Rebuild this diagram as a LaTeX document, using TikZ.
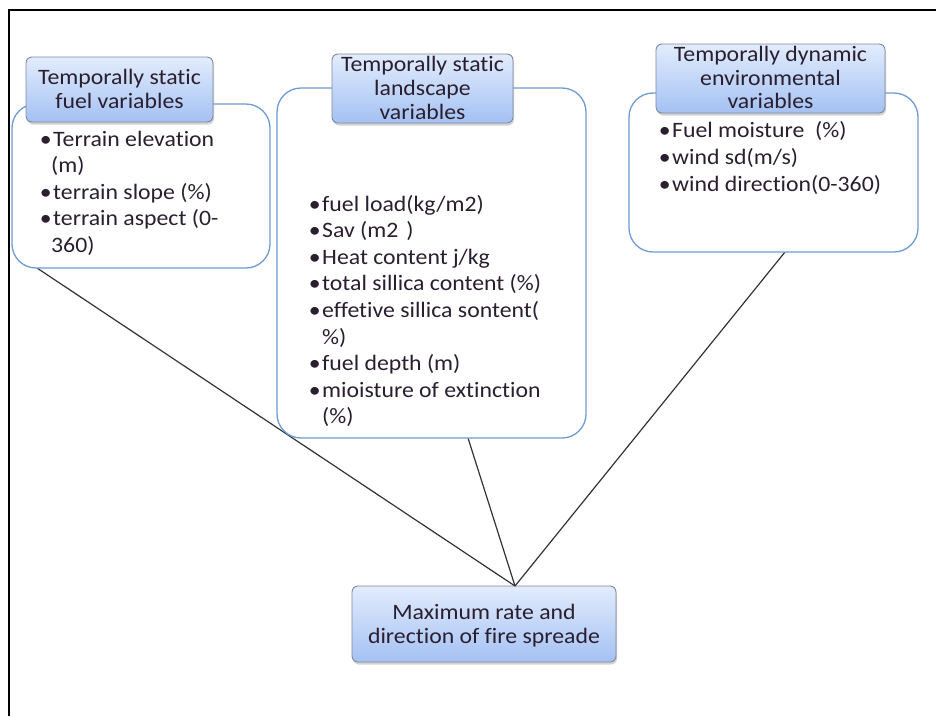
\documentclass[tikz,border=0pt]{standalone}
\usepackage{fontspec}
\setmainfont{Carlito}[Ligatures={NoCommon}, FakeStretch=1.08]
\usetikzlibrary{shadows,calc}
\definecolor{txt}{HTML}{2A1F2F}
\definecolor{hdrtop}{HTML}{E2ECFD}
\definecolor{hdrbot}{HTML}{A4C1F3}
\definecolor{hdrline}{HTML}{7F8AA0}
\definecolor{bodyline}{HTML}{6F9BD3}
\definecolor{conn}{HTML}{333333}
\tikzset{
  bodybox/.style={draw=bodyline, line width=1.3pt, rounded corners=24pt, fill=white, inner sep=0pt, outer sep=0pt},
  hdrbox/.style={draw=hdrline, line width=0.9pt, rounded corners=6pt, top color=hdrtop, bottom color=hdrbot, inner sep=0pt, outer sep=0pt,
    drop shadow={opacity=0.35, shadow xshift=1pt, shadow yshift=-2.5pt}},
  listline/.style={anchor=base west, inner sep=0pt, text=txt, font=\fontsize{22}{26.6}\selectfont},
  hdrline/.style={anchor=base, inner sep=0pt, text=txt, font=\fontsize{22}{24}\selectfont},
  connector/.style={draw=conn, line width=1.2pt},
  frame/.style={draw=black, line width=2pt}
}
\newcommand{\bul}{\llap{•\kern1.5pt}}
\begin{document}
\begin{tikzpicture}[x=1pt,y=-1pt]
\useasboundingbox (0,0) rectangle (936,716);
\fill[white] (0,0) rectangle (936,716);
% frame
\coordinate (ftl) at (9,10);
\coordinate (ftr) at (936,10);
\coordinate (fbl) at (9,716);
\draw[frame] (ftr) -- (ftl) -- (fbl);

% result box
\node[hdrbox, minimum width=264pt, minimum height=76pt] (res) at (484,624) {};
\coordinate (apex) at ($(res.north)+(31pt,0)$);

% connector start points on the body borders
\coordinate (lstart) at (37,268);
\coordinate (mstart) at (468,438);
\coordinate (rstart) at (785,252);
\draw[connector] (lstart) -- (apex);
\draw[connector] (mstart) -- (apex);
\draw[connector] (rstart) -- (apex);

% body boxes
\node[bodybox, minimum width=258pt, minimum height=164pt] (lbody) at (141,186) {};
\node[bodybox, minimum width=309pt, minimum height=350pt] (mbody) at (431.5,263) {};
\node[bodybox, minimum width=289pt, minimum height=159pt] (rbody) at (773.5,172.5) {};

% header boxes
\node[hdrbox, minimum width=187pt, minimum height=65pt] (lhdr) at (119.5,89.5) {};
\node[hdrbox, minimum width=181pt, minimum height=69pt] (mhdr) at (422.5,88.5) {};
\node[hdrbox, minimum width=229pt, minimum height=69pt] (rhdr) at (770.5,78.5) {};

% header texts
\node[hdrline] (lh1) at (119.5,84) {Temporally static};
\node[hdrline] (lh2) at (119.5,108) {fuel variables};
\node[hdrline] (mh1) at (422.5,71) {Temporally static};
\node[hdrline] (mh2) at (422.5,95) {landscape};
\node[hdrline] (mh3) at (422.5,119) {variables};
\node[hdrline] (rh1) at (770.5,61) {Temporally dynamic};
\node[hdrline] (rh2) at (770.5,85) {environmental};
\node[hdrline] (rh3) at (770.5,108) {variables};

% left list
\node[listline] (l1) at (53,146) {\bul Terrain elevation};
\node[listline] (l2) at (51,172.5) {(m)};
\node[listline] (l3) at (53,199) {\bul terrain slope (\%)};
\node[listline] (l4) at (53,225.5) {\bul terrain aspect (0-};
\node[listline] (l5) at (51,252) {360)};

% middle list
\node[listline] (m1) at (322,211) {\bul fuel load(kg/m2)};
\node[listline] (m2) at (322,237.6) {\bul Sav (m2\hspace{8pt})};
\node[listline] (m3) at (322,264.2) {\bul Heat content j/kg};
\node[listline] (m4) at (322,290.8) {\bul total sillica content (\%)};
\node[listline] (m5) at (322,317.4) {\bul effetive sillica sontent(};
\node[listline] (m6) at (322,344) {\%)};
\node[listline] (m7) at (322,370.6) {\bul fuel depth (m)};
\node[listline] (m8) at (322,397.2) {\bul mioisture of extinction};
\node[listline] (m9) at (322,423.8) {(\%)};

% right list
\node[listline] (r1) at (672,137) {\bul Fuel moisture\ \ (\%)};
\node[listline] (r2) at (672,164) {\bul wind sd(m/s)};
\node[listline] (r3) at (672,191) {\bul wind direction(0-360)};

% result text
\node[hdrline] (res1) at (484,619) {Maximum rate and};
\node[hdrline] (res2) at (484,643) {direction of fire spreade};
\end{tikzpicture}
\end{document}
